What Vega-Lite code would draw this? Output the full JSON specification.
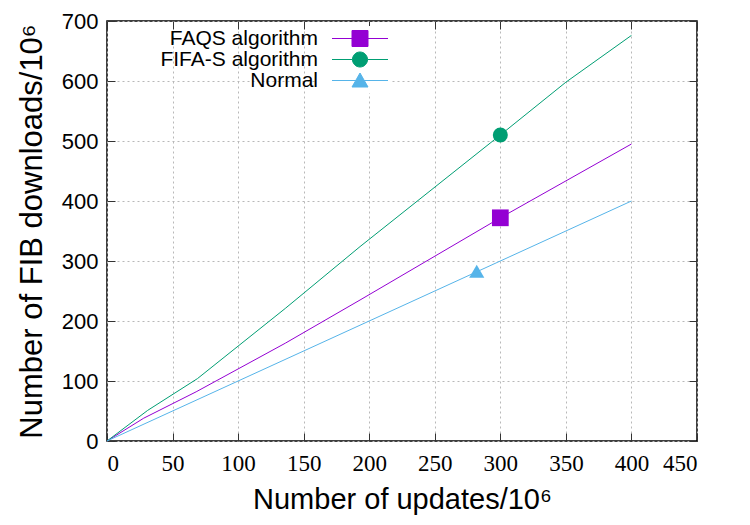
{
  "$schema": "https://vega.github.io/schema/vega-lite/v6.json",
  "width": 590,
  "height": 420,
  "autosize": {"type": "none"},
  "padding": {"left": 107, "top": 21, "right": 53, "bottom": 84},
  "background": "white",
  "datasets": {
    "lines": [
      {"series": "FAQS algorithm", "updates": 0, "downloads": 0},
      {"series": "FAQS algorithm", "updates": 28, "downloads": 38},
      {"series": "FAQS algorithm", "updates": 68, "downloads": 82},
      {"series": "FAQS algorithm", "updates": 136, "downloads": 163},
      {"series": "FAQS algorithm", "updates": 193, "downloads": 235},
      {"series": "FAQS algorithm", "updates": 300, "downloads": 372},
      {"series": "FAQS algorithm", "updates": 400, "downloads": 495},
      {"series": "FIFA-S algorithm", "updates": 0, "downloads": 0},
      {"series": "FIFA-S algorithm", "updates": 31, "downloads": 51},
      {"series": "FIFA-S algorithm", "updates": 69, "downloads": 104},
      {"series": "FIFA-S algorithm", "updates": 136, "downloads": 221},
      {"series": "FIFA-S algorithm", "updates": 193, "downloads": 324},
      {"series": "FIFA-S algorithm", "updates": 300, "downloads": 510},
      {"series": "FIFA-S algorithm", "updates": 350, "downloads": 598},
      {"series": "FIFA-S algorithm", "updates": 400, "downloads": 676},
      {"series": "Normal", "updates": 0, "downloads": 0},
      {"series": "Normal", "updates": 400, "downloads": 400}
    ],
    "markers": [
      {"series": "FAQS algorithm", "updates": 300, "downloads": 372},
      {"series": "FIFA-S algorithm", "updates": 300, "downloads": 510},
      {"series": "Normal", "updates": 282, "downloads": 283}
    ]
  },
  "config": {
    "view": {"stroke": "black", "strokeWidth": 1.5},
    "font": "Liberation Sans",
    "axis": {
      "domain": false,
      "tickColor": "#333",
      "tickSize": -8,
      "tickWidth": 1,
      "labelColor": "black",
      "titleColor": "black",
      "labelFont": "Liberation Sans",
      "titleFont": "Liberation Sans",
      "titleFontWeight": "normal",
      "labelFontSize": 22,
      "titleFontSize": 29,
      "gridColor": "#b8b8b8",
      "gridDash": [2, 3],
      "gridWidth": 1
    }
  },
  "resolve": {"axis": {"x": "independent", "y": "independent"}},
  "layer": [
    {
      "data": {"name": "lines"},
      "mark": {"type": "line", "strokeWidth": 1, "interpolate": "linear"},
      "encoding": {
        "x": {
          "field": "updates",
          "type": "quantitative",
          "scale": {"domain": [0, 450], "nice": false, "zero": false},
          "axis": {
            "values": [0, 50, 100, 150, 200, 250, 300, 350, 400, 450],
            "title": "Number of updates/10⁶",
            "labelFont": "Liberation Sans Narrow",
            "labelFontSize": 23,
            "labelPadding": 19,
            "titlePadding": 10,
            "grid": true
          }
        },
        "y": {
          "field": "downloads",
          "type": "quantitative",
          "scale": {"domain": [0, 700], "nice": false},
          "axis": {
            "values": [0, 100, 200, 300, 400, 500, 600, 700],
            "title": "Number of FIB downloads/10⁶",
            "labelPadding": 17,
            "titlePadding": 13,
            "titleFontSize": 31,
            "grid": true
          }
        },
        "color": {
          "field": "series",
          "type": "nominal",
          "scale": {
            "domain": ["FAQS algorithm", "FIFA-S algorithm", "Normal"],
            "range": ["#9400d3", "#009e73", "#56b4e9"]
          },
          "legend": {
            "title": null,
            "orient": "none",
            "legendX": 209,
            "legendY": 5,
            "labelFontSize": 21,
            "labelColor": "black",
            "rowPadding": -1,
            "symbolStrokeWidth": 1,
            "fillColor": "white",
            "padding": 2,
            "encode": {
              "labels": {
                "update": {
                  "x": {"value": 0},
                  "align": {"value": "right"}
                }
              },
              "symbols": {
                "update": {
                  "x": {"value": 42},
                  "size": {"value": 100},
                  "strokeWidth": {"value": 1},
                  "opacity": {"value": 1},
                  "stroke": {"signal": "scale('color', datum.value)"},
                  "fill": {"signal": "scale('color', datum.value)"},
                  "shape": {"signal": "datum.value === 'FAQS algorithm' ? 'M-5.6,0H-1.6M1.6,0H5.6M-1.6,-1.6H1.6V1.6H-1.6Z' : datum.value === 'FIFA-S algorithm' ? 'M-5.6,0H-1.5M1.5,0H5.6M-1.5,0A1.5,1.5 0 1,0 1.5,0A1.5,1.5 0 1,0 -1.5,0Z' : 'M-5.6,0H5.6M0,-1.5L1.6,1.3H-1.6Z'"}
                }
              }
            }
          }
        }
      }
    },
    {
      "data": {"name": "markers"},
      "transform": [{"filter": "datum.series === 'FAQS algorithm'"}],
      "mark": {"type": "point", "shape": "square", "filled": true, "opacity": 1, "size": 280},
      "encoding": {
        "x": {
          "field": "updates",
          "type": "quantitative",
          "axis": {
            "orient": "top",
            "values": [0, 50, 100, 150, 200, 250, 300, 350, 400, 450],
            "labels": false,
            "title": null,
            "grid": false
          }
        },
        "y": {
          "field": "downloads",
          "type": "quantitative",
          "axis": {
            "orient": "right",
            "values": [0, 100, 200, 300, 400, 500, 600, 700],
            "labels": false,
            "title": null,
            "grid": false
          }
        },
        "color": {"field": "series", "type": "nominal"}
      }
    },
    {
      "data": {"name": "markers"},
      "transform": [{"filter": "datum.series === 'FIFA-S algorithm'"}],
      "mark": {"type": "point", "shape": "circle", "filled": true, "opacity": 1, "size": 225},
      "encoding": {
        "x": {"field": "updates", "type": "quantitative", "axis": null},
        "y": {"field": "downloads", "type": "quantitative", "axis": null},
        "color": {"field": "series", "type": "nominal"}
      }
    },
    {
      "data": {"name": "markers"},
      "transform": [{"filter": "datum.series === 'Normal'"}],
      "mark": {"type": "point", "shape": "triangle-up", "filled": true, "opacity": 1, "size": 230},
      "encoding": {
        "x": {"field": "updates", "type": "quantitative", "axis": null},
        "y": {"field": "downloads", "type": "quantitative", "axis": null},
        "color": {"field": "series", "type": "nominal"}
      }
    }
  ]
}
